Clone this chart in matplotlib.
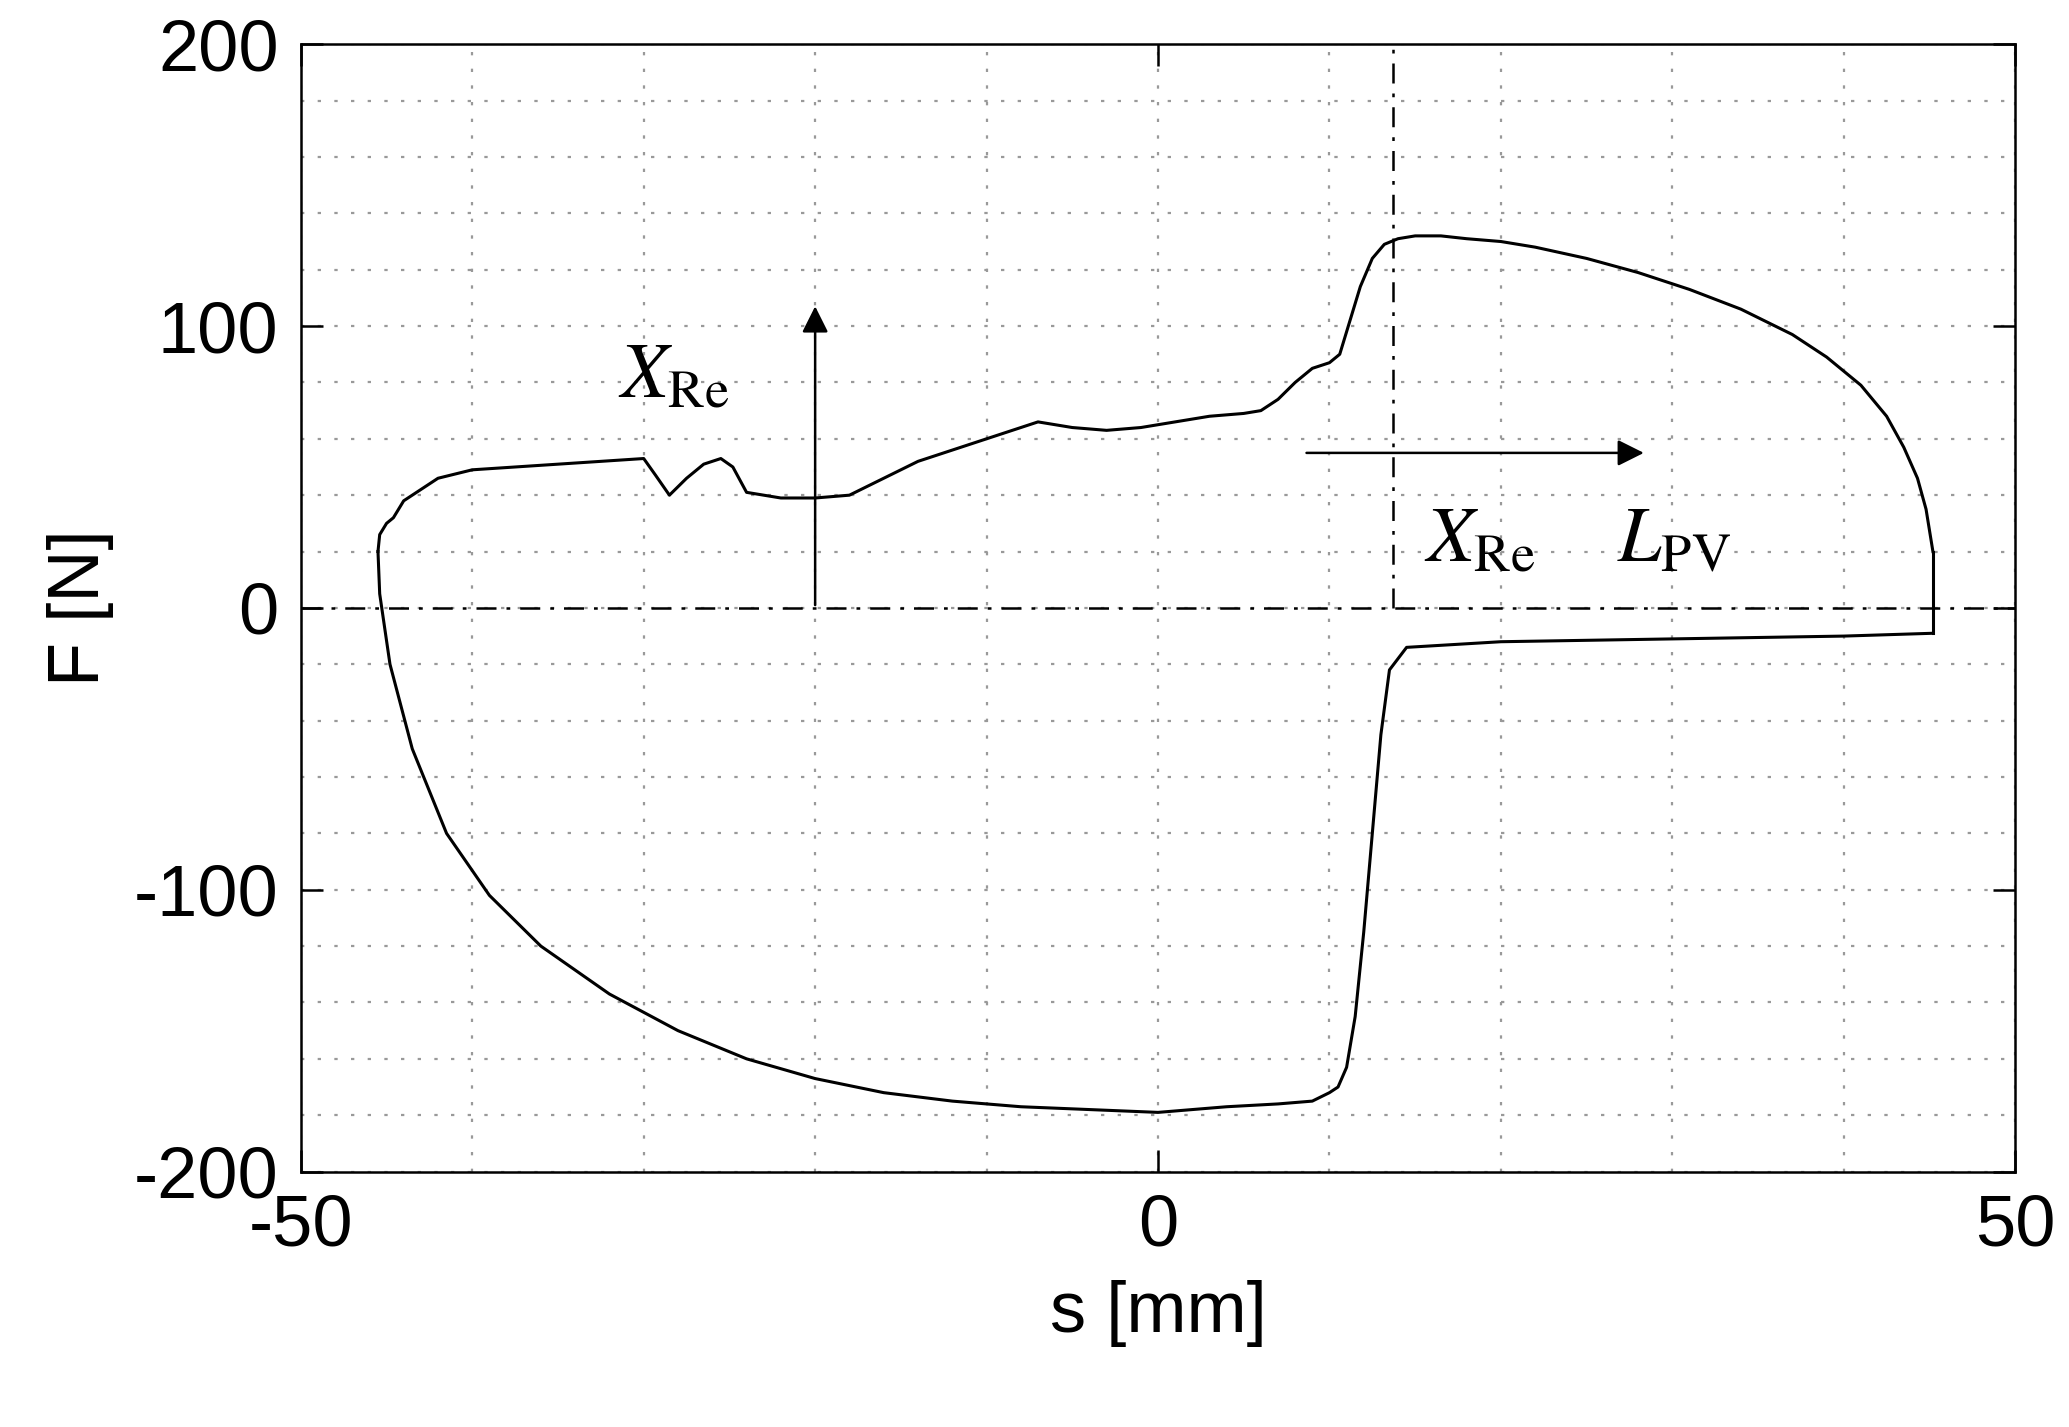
import matplotlib.pyplot as plt
import numpy as np

plt.rcParams['font.family'] = ['Liberation Sans', 'DejaVu Sans']
plt.rcParams['mathtext.fontset'] = 'stix'
plt.rcParams['axes.unicode_minus'] = False

# upper branch (loading), left to right
s_up = [-45.5, -45.4, -45.0, -44.6, -44.0, -42.0, -40.0, -35.0, -30.0, -29.3, -28.5, -27.5,
        -26.5, -25.5, -24.8, -24.0, -22.0, -20.0, -18.0, -16.0, -14.0, -12.0, -10.0, -8.0,
        -7.0, -5.0, -3.0, -1.0, 1.0, 3.0, 5.0, 6.0, 7.0, 8.0, 9.0, 10.0, 10.6, 11.2,
        11.8, 12.5, 13.2, 14.0, 15.0, 16.5, 18.0, 20.0, 22.0, 25.0, 28.0, 31.0, 34.0,
        37.0, 39.0, 41.0, 42.5, 43.5, 44.3, 44.8, 45.2]
f_up = [20, 26, 30, 32, 38, 46, 49, 51, 53, 47, 40, 46,
        51, 53, 50, 41, 39, 39, 40, 46, 52, 56, 60, 64,
        66, 64, 63, 64, 66, 68, 69, 70, 74, 80, 85, 87, 90, 102,
        114, 124, 129, 131, 132, 132, 131, 130, 128, 124, 119, 113, 106,
        97, 89, 79, 68, 57, 46, 35, 20]
# unloading jump at right end
s_jump = [45.2, 45.2]
f_jump = [20, -9]
# lower branch (return), right to left
s_lo = [45.2, 40.0, 30.0, 20.0, 14.5, 13.5, 13.0, 12.5, 12.0, 11.5, 11.0, 10.5, 10.0,
        9.0, 7.0, 4.0, 0.0, -4.0, -8.0, -12.0, -16.0, -20.0, -24.0, -28.0, -32.0,
        -36.0, -39.0, -41.5, -43.5, -44.8, -45.4, -45.5]
f_lo = [-9, -10, -11, -12, -14, -22, -45, -80, -115, -145, -163, -170, -172,
        -175, -176, -177, -179, -178, -177, -175, -172, -167, -160, -150, -137,
        -120, -102, -80, -50, -20, 5, 20]

fig = plt.figure(figsize=(20.69, 14.27), dpi=100)
ax = fig.add_axes([0.1454, 0.179, 0.8286, 0.790])

ax.plot(s_up, f_up, color='black', lw=2.2)
ax.plot(s_jump, f_jump, color='black', lw=2.2)
ax.plot(s_lo, f_lo, color='black', lw=2.2)

ax.axhline(0, color='black', lw=1.8, ls=(0, (8, 4, 1.5, 4)))
ax.plot([13.7, 13.7], [0, 200], color='black', lw=1.8, ls=(0, (8, 4, 1.5, 4)))

ax.annotate('', xy=(-20, 108), xytext=(-20, 0),
            arrowprops=dict(arrowstyle='-|>', color='black', lw=1.8, mutation_scale=40))
ax.annotate('', xy=(28.5, 55), xytext=(8.5, 55),
            arrowprops=dict(arrowstyle='-|>', color='black', lw=1.8, mutation_scale=40))
ax.text(-31.5, 82, r'$X_{\mathrm{Re}}$', fontsize=56, ha='left', va='center')
ax.text(15.5, 24, r'$X_{\mathrm{Re}}$', fontsize=56, ha='left', va='center')
ax.text(26.8, 24, r'$L_{\mathrm{PV}}$', fontsize=56, ha='left', va='center')

ax.set_xlim(-50, 50)
ax.set_ylim(-200, 200)
ax.set_xticks([-50, 0, 50])
ax.set_yticks([-200, -100, 0, 100, 200])
ax.set_xticks(np.arange(-40, 50, 10), minor=True)
ax.set_yticks(np.arange(-180, 200, 20), minor=True)
ax.grid(which='both', color='#999999', ls=(0, (1.5, 6)), lw=1.6)
ax.tick_params(which='major', direction='in', length=16, width=1.8, labelsize=52,
               top=True, right=True, pad=16)
ax.tick_params(which='minor', length=0)
for sp in ax.spines.values():
    sp.set_linewidth(1.8)

ax.set_xlabel('s [mm]', fontsize=52, labelpad=14)
ax.set_ylabel('F [N]', fontsize=52, labelpad=14)

fig.savefig('out.png', dpi=100)
